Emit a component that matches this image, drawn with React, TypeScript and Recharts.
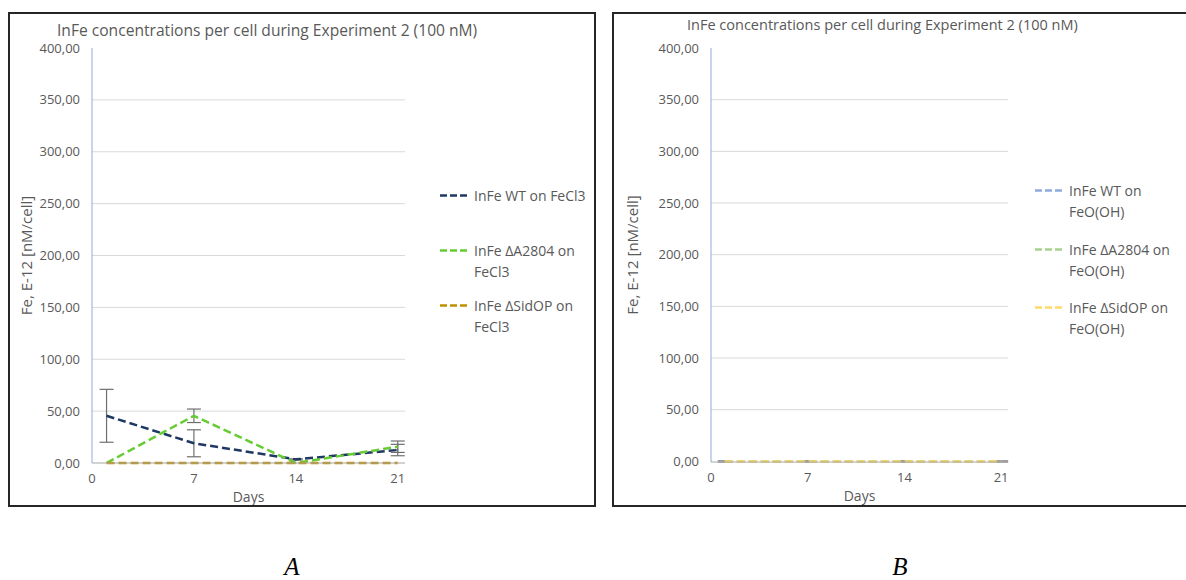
import React from 'react';
import {
  LineChart,
  Line,
  XAxis,
  YAxis,
  ErrorBar,
  ReferenceLine,
} from 'recharts';

// sampling days (x values)
const days = [1, 7, 14, 21];
const xTicks = [0, 7, 14, 21];
const yTicks = [0, 50, 100, 150, 200, 250, 300, 350, 400];
const gridValues = [50, 100, 150, 200, 250, 300, 350];

// panel A - FeCl3
const wtFeCl3 = [45.5, 19, 3.5, 12.5];
const wtFeCl3Err = [25.5, 13, 0.5, 5.5];
const a2804FeCl3 = [0, 45.5, 0, 15.7];
const a2804FeCl3Err = [0, 6.5, 0, 5.5];
const sidopFeCl3 = [0, 0, 0, 0];

// panel B - FeO(OH)
const wtFeOOH = [0, 0, 0, 0];
const wtFeOOHErr = [0.6, 0.6, 0.6, 0.6];
const a2804FeOOH = [0, 0, 0, 0];
const a2804FeOOHErr = [0.6, 0.6, 0.6, 0.6];
const sidopFeOOH = [0, 0, 0, 0];

const TITLE = 'InFe concentrations per cell during Experiment 2 (100 nM)';
const Y_LABEL = 'Fe, E-12 [nM/cell]';
const FONT = '"Open Sans", sans-serif';
const TEXT = '#595959';

const dataA = days.map((d, i) => ({
  day: d,
  wt: wtFeCl3[i],
  wtErr: wtFeCl3Err[i],
  a2804: a2804FeCl3[i],
  a2804Err: a2804FeCl3Err[i],
  sidop: sidopFeCl3[i],
}));

const dataB = days.map((d, i) => ({
  day: d,
  wt: wtFeOOH[i],
  wtErr: wtFeOOHErr[i],
  a2804: a2804FeOOH[i],
  a2804Err: a2804FeOOHErr[i],
  sidop: sidopFeOOH[i],
}));

type Series = { key: string; name: string; color: string; errKey?: string };

const seriesA: Series[] = [
  { key: 'wt', name: 'InFe WT on FeCl3', color: '#203864', errKey: 'wtErr' },
  { key: 'a2804', name: 'InFe ΔA2804 on\nFeCl3', color: '#66cc33', errKey: 'a2804Err' },
  { key: 'sidop', name: 'InFe ΔSidOP on\nFeCl3', color: '#bf9000' },
];

const seriesB: Series[] = [
  { key: 'wt', name: 'InFe WT on\nFeO(OH)', color: '#8faadc', errKey: 'wtErr' },
  { key: 'a2804', name: 'InFe ΔA2804 on\nFeO(OH)', color: '#a9d18e', errKey: 'a2804Err' },
  { key: 'sidop', name: 'InFe ΔSidOP on\nFeO(OH)', color: '#ffd966' },
];

const fmt = (v: number) => v.toFixed(2).replace('.', ',');

interface PanelProps {
  left: number;
  boxWidth: number;
  data: any[];
  series: Series[];
  plotLeft: number;
  plotRight: number;
  plotBottom: number;
  yLabelX: number;
  titleLeft: number;
  titleTop: number;
  titleSize: number;
  legendLeft: number;
  legendTop: number;
  legendStep: number;
  errColor: string;
}

function Panel(p: PanelProps) {
  const w = p.boxWidth - 4;
  const h = 491;
  const yAxisWidth = p.plotLeft - 8;
  return (
    <div
      style={{
        position: 'absolute',
        left: p.left,
        top: 12,
        width: p.boxWidth,
        height: 495,
        border: '2px solid #262626',
        boxSizing: 'border-box',
        background: '#fff',
      }}
    >
      <div
        style={{
          position: 'absolute',
          left: p.titleLeft,
          top: p.titleTop,
          fontSize: p.titleSize,
          lineHeight: '22px',
          color: TEXT,
          whiteSpace: 'nowrap',
          fontFamily: FONT,
        }}
      >
        {TITLE}
      </div>
      <div style={{ position: 'absolute', left: 0, top: 0 }}>
        <LineChart
          width={w}
          height={h}
          data={p.data}
          margin={{ top: 34, right: w - p.plotRight, left: 8, bottom: h - p.plotBottom - 40 }}
        >
          {gridValues.map((v) => (
            <ReferenceLine key={v} y={v} stroke="#d9d9d9" strokeWidth={1} />
          ))}
          <XAxis
            dataKey="day"
            type="number"
            domain={[0, 21.5]}
            ticks={xTicks}
            height={40}
            tickLine={false}
            tickSize={0}
            tickMargin={11}
            axisLine={{ stroke: '#a6a6a6' }}
            tick={{ fill: TEXT, fontSize: 13, fontFamily: FONT }}
            label={{
              value: 'Days',
              position: 'insideBottom',
              offset: 1,
              fill: TEXT,
              fontSize: 14,
              fontFamily: FONT,
            }}
          />
          <YAxis
            domain={[0, 400]}
            ticks={yTicks}
            width={yAxisWidth}
            tickFormatter={fmt}
            tickLine={false}
            tickSize={0}
            tickMargin={12}
            axisLine={{ stroke: '#8faadc' }}
            tick={{ fill: TEXT, fontSize: 13, fontFamily: FONT }}
            label={{
              value: Y_LABEL,
              angle: -90,
              position: 'insideLeft',
              offset: p.yLabelX - 8,
              fill: TEXT,
              fontSize: 15,
              fontFamily: FONT,
              style: { textAnchor: 'middle' },
            }}
          />
          {p.series.map((s) => (
            <Line
              key={s.key}
              dataKey={s.key}
              name={s.name}
              stroke={s.color}
              strokeWidth={2.5}
              strokeDasharray="8 4"
              dot={false}
              activeDot={false}
              isAnimationActive={false}
            >
              {s.errKey && (
                <ErrorBar dataKey={s.errKey} direction="y" width={7} stroke={p.errColor} strokeWidth={1.2} />
              )}
            </Line>
          ))}
        </LineChart>
      </div>
      {p.series.map((s, i) => (
        <div
          key={s.key}
          style={{
            position: 'absolute',
            left: p.legendLeft,
            top: p.legendTop + i * p.legendStep - 10,
            display: 'flex',
            alignItems: 'flex-start',
            fontFamily: FONT,
            fontSize: 14,
            lineHeight: '21px',
            color: TEXT,
          }}
        >
          <svg width={34} height={21} style={{ flex: 'none' }}>
            <line x1={0} x2={28} y1={10.5} y2={10.5} stroke={s.color} strokeWidth={2.5} strokeDasharray="7 3" />
          </svg>
          <span style={{ whiteSpace: 'pre-line' }}>{s.name}</span>
        </div>
      ))}
    </div>
  );
}

export default function App() {
  return (
    <div
      style={{
        position: 'absolute',
        left: 0,
        top: 0,
        width: 1186,
        height: 580,
        overflow: 'hidden',
        background: '#fff',
      }}
    >
      <Panel
        left={8}
        boxWidth={588}
        data={dataA}
        series={seriesA}
        plotLeft={82}
        plotRight={395}
        plotBottom={449}
        yLabelX={17}
        titleLeft={47}
        titleTop={5}
        titleSize={15.6}
        legendLeft={430}
        legendTop={181}
        legendStep={55}
        errColor="#6f6f6f"
      />
      <Panel
        left={612}
        boxWidth={600}
        data={dataB}
        series={seriesB}
        plotLeft={97}
        plotRight={394}
        plotBottom={448}
        yLabelX={19}
        titleLeft={73}
        titleTop={0}
        titleSize={14.5}
        legendLeft={421}
        legendTop={176}
        legendStep={58.5}
        errColor="#9a9a9a"
      />
      {['A', 'B'].map((c, i) => (
        <div
          key={c}
          style={{
            position: 'absolute',
            left: i === 0 ? 272 : 880,
            top: 555,
            width: 40,
            textAlign: 'center',
            fontFamily: '"Liberation Serif", serif',
            fontStyle: 'italic',
            fontSize: 25,
            lineHeight: '24px',
          }}
        >
          {c}
        </div>
      ))}
    </div>
  );
}
